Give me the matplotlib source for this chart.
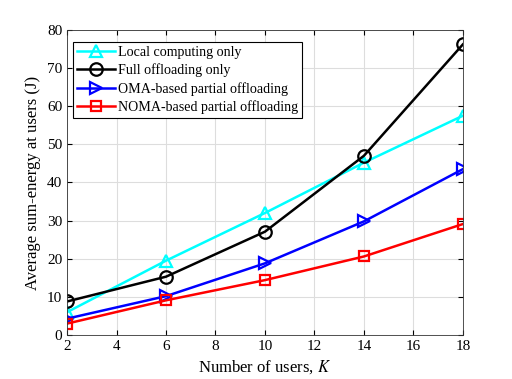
import numpy as np
import matplotlib.pyplot as plt

plt.rcParams['font.family'] = ['Liberation Serif', 'DejaVu Serif']
plt.rcParams['mathtext.fontset'] = 'stix'

K = [2, 6, 10, 14, 18]
local_only = [6.0, 19.5, 32.0, 45.2, 57.5]
full_off = [8.8, 15.3, 27.1, 47.0, 76.2]
oma = [4.3, 10.2, 18.8, 29.8, 43.5]
noma = [3.0, 9.1, 14.4, 20.6, 29.1]

fig = plt.figure(figsize=(5.12, 3.79), dpi=100)
ax = fig.add_axes([0.131, 0.116, 0.773, 0.805])

ax.plot(K, local_only, '-^', color='cyan', lw=1.8, ms=9, mfc='none', mew=1.6, label='Local computing only')
ax.plot(K, full_off, '-o', color='black', lw=1.8, ms=9, mfc='none', mew=1.6, label='Full offloading only')
ax.plot(K, oma, '->', color='blue', lw=1.8, ms=9, mfc='none', mew=1.6, label='OMA-based partial offloading')
ax.plot(K, noma, '-s', color='red', lw=1.8, ms=7, mfc='none', mew=1.6, label='NOMA-based partial offloading')

ax.set_xlim(2, 18)
ax.set_ylim(0, 80)
ax.set_xticks(np.arange(2, 19, 2))
ax.set_yticks(np.arange(0, 81, 10))
ax.grid(True, color='#dddddd', lw=0.8)
ax.tick_params(direction='in', top=True, right=True, labelsize=11)
for s in ax.spines.values():
    s.set_color('#333333')
    s.set_linewidth(0.6)
ax.set_xlabel('Number of users, $K$', fontsize=12)
ax.set_ylabel('Average sum-energy at users (J)', fontsize=12)

leg = ax.legend(loc='upper left', bbox_to_anchor=(0.015, 0.961), fontsize=10.1,
                fancybox=False, framealpha=1, edgecolor='black', handlelength=2.7,
                borderpad=0.3, labelspacing=0.32, handletextpad=0.2, borderaxespad=0)
leg.get_frame().set_linewidth(0.8)

fig.savefig('out.png', dpi=100)
